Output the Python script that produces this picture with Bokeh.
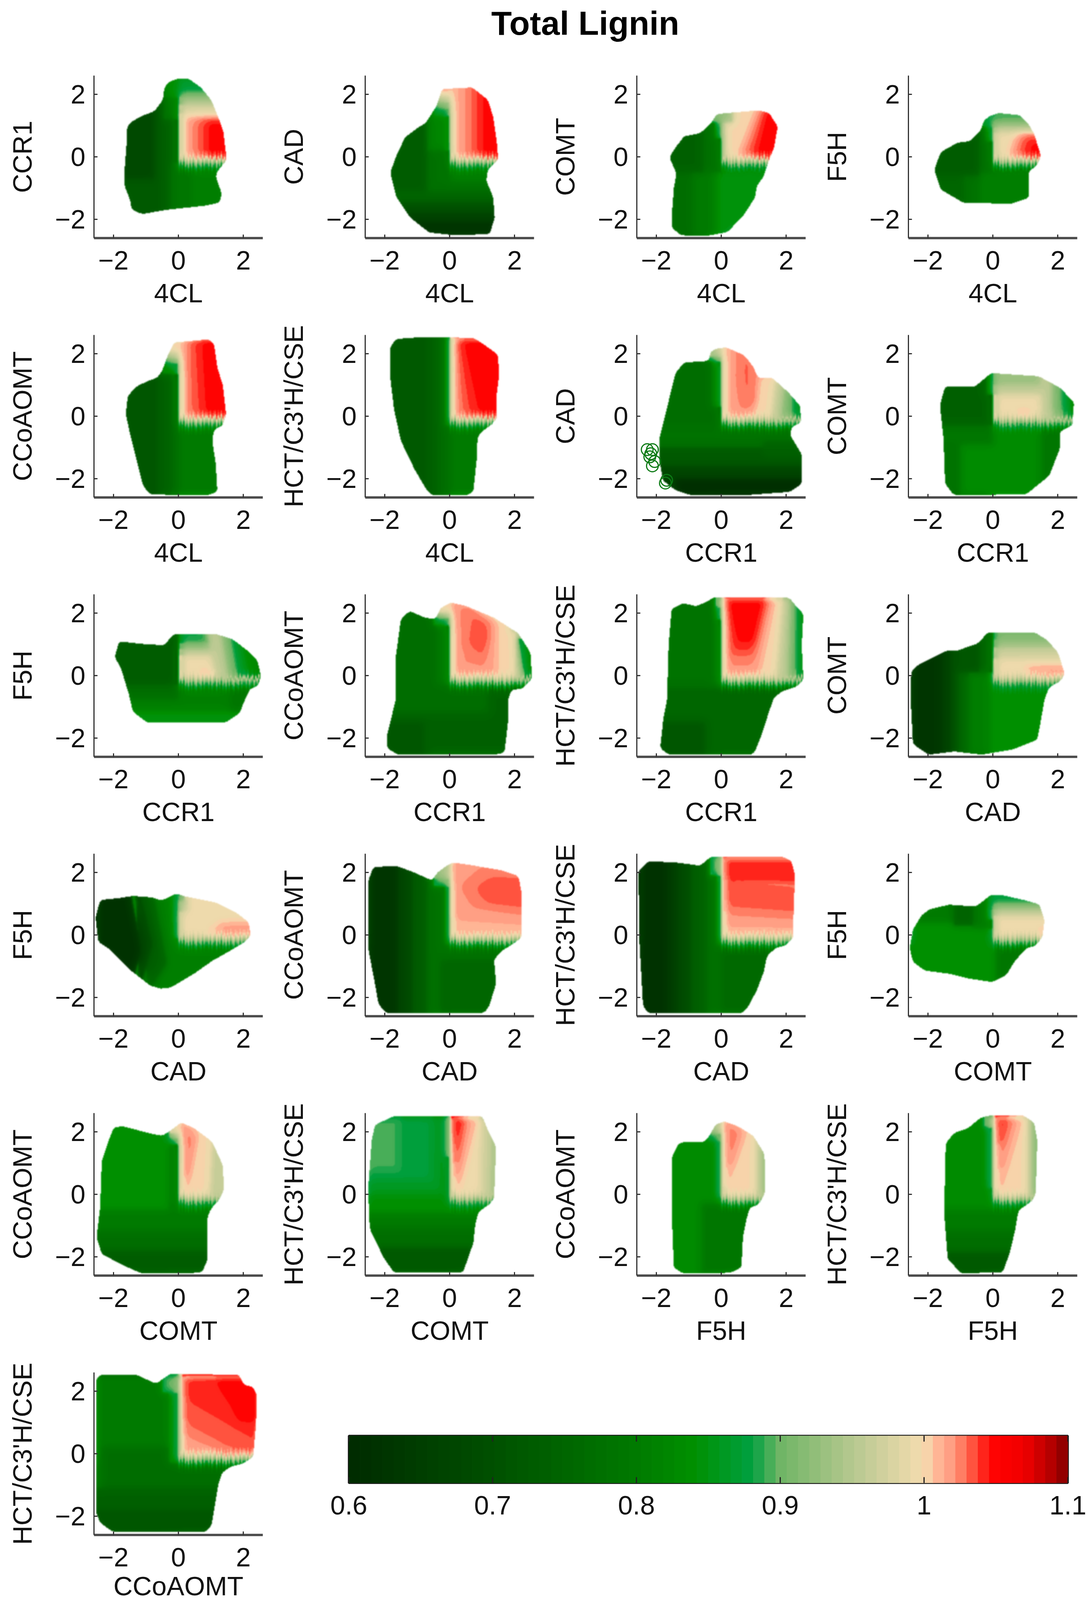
import numpy as np
from bokeh.embed import file_html
from bokeh.resources import INLINE
from bokeh.plotting import figure
from bokeh.layouts import column, row
from bokeh.models import Range1d, Label, FixedTicker, LinearAxis, Spacer

TITLE = "Total Lignin"
X_LABELS = ["4CL","4CL","4CL","4CL","4CL","4CL","CCR1","CCR1","CCR1","CCR1","CCR1","CAD","CAD","CAD","CAD","COMT","COMT","COMT","F5H","F5H","CCoAOMT"]
Y_LABELS = ["CCR1","CAD","COMT","F5H","CCoAOMT","HCT/C3'H/CSE","CAD","COMT","F5H","CCoAOMT","HCT/C3'H/CSE","COMT","F5H","CCoAOMT","HCT/C3'H/CSE","F5H","CCoAOMT","HCT/C3'H/CSE","CCoAOMT","HCT/C3'H/CSE","HCT/C3'H/CSE"]
TICKS = [-2, 0, 2]
CBAR_TICKS = [0.6, 0.7, 0.8, 0.9, 1.0, 1.1]
CBAR_LABELS = ["0.6", "0.7", "0.8", "0.9", "1", "1.1"]
CMAP_V = [0.6, 0.7, 0.8, 0.84, 0.88, 0.9, 0.95, 1.0, 1.01, 1.02, 1.03, 1.04, 1.05, 1.07, 1.09, 1.1]
CMAP_C = ["#002b00","#005000","#007a00","#009000","#00a040","#6fb565","#b5c88f","#f5dcb0","#ffb595","#ff9a80","#ff6a50","#ff2a20","#ff0000","#f00000","#b00000","#800000"]
# green-to-cream edge under the upper right quadrant, and its column-wise teeth
EDGE = [(.87,0,3,-.4,-.22),(.92,0,3,-.24,-.12),(.98,0,3,-.14,-.04)]
TEETH = [.05,-.03,.08,-.06,.02,.07,-.08,.04,-.02,.09,-.05,.03,-.07,.06,-.04,.08,-.02,-.07,.05,.01,-.06,.07,-.03,.04]

OUT01_X = [0,.32,.69,1.01,1.22,1.38,1.49,1.22,1.15,1.33,1.28,.85,-.32,-1.12,-1.44,-1.49,-1.65,-1.65,-1.6,-1.6,-1.49,-1.17,-.74,-.48,-.43,-.27]
OUT01_Y = [2.5,2.5,2.22,1.82,1.29,.83,-.1,-.43,-.63,-1.16,-1.46,-1.56,-1.69,-1.83,-1.69,-1.36,-.96,-.3,.36,.89,1.09,1.29,1.46,1.82,2.22,2.42]
BAND01 = [(.76,-3,3,-3,3),(.72,-3,-.55,-3,3),(.68,-3,-.75,-.7,3),(.74,-.55,-.25,-3,3),(.79,-.25,3,-3,-.2),(.81,.4,3,-3,-.3),(.8,-.45,0,1.2,3),(.84,-.45,0,1.9,3),
 (1.0,0,3,-.12,3),(.87,0,3,2.1,3),(.9,0,3,1.92,2.1),(.94,0,3,1.68,1.92),(.98,0,3,1.4,1.68),
 (1.01,.15,3,-.05,1.25),(1.02,.3,3,-.05,1.25),(1.03,.5,3,-.05,1.25),(1.04,.72,3,-.05,1.25),(1.05,.92,3,-.05,1.15)] + EDGE

OUT02_X = [-.23,.7,1.18,1.34,1.45,1.5,1.18,1.13,1.34,1.39,1.23,.06,-.63,-1.21,-1.64,-1.83,-1.64,-1.37,-.98,-.73,-.41]
OUT02_Y = [2.17,2.22,1.82,1.29,.5,-.1,-.4,-.76,-1.29,-1.95,-2.48,-2.5,-2.42,-1.95,-1.29,-.5,.03,.63,.93,1.09,1.62]
BAND02 = [(.78,-3,3,-3,3),(.73,-3,-.7,-3,3),(.75,-3,3,-3,-1.1),(.7,-3,3,-3,-1.45),(.66,-3,3,-3,-1.8),(.62,-3,3,-3,-2.1),(.82,-.7,0,.2,3),(.81,0,3,-.8,-.3),
 (.87,-.5,0,1.3,3),(.91,-.5,0,1.55,3),(.96,-.5,0,1.75,3),(1.0,-.5,0,1.95,3),(1.02,-.5,0,2.1,3),
 (1.0,0,3,-.12,3),(1.012,.12,3,-.05,3),(1.02,.3,3,-.05,3),(1.03,.55,3,-.05,3),(1.04,.8,3,-.05,3),(1.05,1.0,3,-.05,3)] + EDGE

OUT03_X = [-.13,1.15,1.47,1.74,1.63,1.47,1.36,1.31,1.1,1.04,.67,.19,-.45,-1.24,-1.51,-1.51,-1.46,-1.38,-1.6,-1.4,-1.14,-.66,-.34]
OUT03_Y = [1.37,1.49,1.41,.97,.31,-.12,-.46,-.62,-.93,-1.31,-1.89,-2.41,-2.53,-2.51,-2.28,-1.7,-1.0,-.54,0,.31,.66,.75,1.04]
BAND03 = [(.82,-3,3,-3,3),(.74,-3,-.55,-.5,3),(.78,-.55,0,-.5,3),(.77,-3,-.9,-3,-.5),(.8,-.9,-.3,-3,-.5),(.85,-.1,3,-3,-.5),(.87,-.2,0,.6,3),(.92,-.4,0,1.1,3),
 (.97,0,3,-.12,3),(1.0,.12,3,-.05,3),(.93,0,.35,1.1,3),(1.01,.42,-.1,1.08,1.6,3,1.6,3,-.1),(1.02,.52,-.1,1.16,1.6,3,1.6,3,-.1),(1.03,.65,-.1,1.25,1.6,3,1.6,3,-.1),(1.04,.85,-.1,1.35,1.6,3,1.6,3,-.1),(1.05,1.05,-.1,1.42,1.6,3,1.6,3,-.1)] + EDGE

OUT04_X = [.2,.84,1.11,1.27,1.48,1.37,1.11,1.11,1.11,.57,-.91,-1.61,-1.8,-1.61,-1.07,-.7,-.38,-.28,-.06]
OUT04_Y = [1.4,1.33,1.04,.73,.04,-.27,-.46,-.93,-1.31,-1.5,-1.47,-1.04,-.42,.15,.46,.5,.83,1.16,1.33]
BAND04 = [(.78,-3,3,-3,3),(.73,-3,-.4,-.6,3),(.75,-3,-.9,-3,-.6),(.81,-.4,3,-3,-.5),(.84,-.25,0,.5,3),(.88,-.35,0,.95,3),
 (.995,0,3,-.12,3),(.97,0,3,.78,3),(.93,0,3,.95,3),(.89,0,3,1.12,3),
 (1.01,.4,-.1,.68,.78,3,.78,3,-.1),(1.02,.52,-.1,.8,.78,3,.78,3,-.1),(1.03,.66,-.1,.92,.78,3,.78,3,-.1),(1.04,.82,-.1,1.05,.7,3,.7,3,-.1),(1.05,1.02,-.1,1.2,.45,3,.45,3,-.1)] + EDGE

OUT05_X = [-.13,.94,1.1,1.2,1.37,1.47,1.36,1.1,1.04,1.15,1.2,.94,-.87,-1.09,-1.35,-1.49,-1.62,-1.56,-1.3,-.87,-.66,-.5,-.34,-.18]
OUT05_Y = [2.36,2.46,2.3,1.56,.98,.06,-.29,-.44,-.75,-1.52,-2.41,-2.52,-2.51,-2.22,-1.14,-.56,.06,.64,.95,1.16,1.22,1.45,1.91,2.26]
BAND05 = [(.77,-3,3,-3,3),(.71,-3,-.65,-3,3),(.74,-.65,-.25,-3,3),(.8,0,3,-3,-.3),(.85,-.5,0,1.35,3),(.91,-.5,0,1.7,3),(.96,-.5,0,1.85,3),(1.0,-.5,0,2.05,3),
 (1.0,0,3,-.12,3),(1.012,.08,3,-.05,3),(1.02,.2,3,-.05,3),(1.03,.3,-.05,.25,2.6,3,2.6,3,-.05),(1.04,.58,-.05,.45,2.6,3,2.6,3,-.05),(1.05,.85,-.05,.7,2.6,3,2.6,3,-.05)] + EDGE

OUT06_X = [-1.66,-1.02,.73,.95,1.48,1.53,1.43,1.46,1.27,1,.86,.84,.73,.57,-.54,-.7,-1.07,-1.5,-1.71,-1.82,-1.82]
OUT06_Y = [2.47,2.52,2.51,2.37,1.98,1.37,.52,-.06,-.29,-.48,-.68,-1.33,-2.41,-2.52,-2.52,-2.37,-1.72,-.79,.21,1.16,2.22]
BAND06 = [(.77,-3,3,-3,3),(.72,-3,-.7,-3,3),(.74,-.7,-.35,-3,3),(.8,0,3,-3,-.3),(.84,-.15,0,-.3,3),
 (1.0,0,3,-.12,3),(1.012,.07,-.1,.1,3,3,3,3,-.1),(1.025,.2,-.1,.12,3,3,3,3,-.1),(1.035,.45,-.1,.15,3,3,3,3,-.1),(1.043,.7,-.1,.2,3,3,3,3,-.1),(1.05,1.0,-.1,.3,3,3,3,3,-.1)] + EDGE

OUT07_X = [-.16,.16,.71,.98,1.14,1.58,2.07,2.42,2.47,2.17,2.12,2.48,2.48,2.12,.71,-.92,-1.41,-1.79,-1.9,-1.9,-1.63,-1.41,-1.14,-.38,-.33]
OUT07_Y = [2.16,2.2,1.95,1.59,1.22,1.22,.76,.34,-.18,-.36,-.6,-1.22,-2.16,-2.42,-2.53,-2.53,-2.37,-2.06,-1.43,-.7,.44,1.38,1.72,1.77,2.06]
BAND07 = [(.77,-3,3,-3,3),(.78,-3,3,-1,-.3),(.72,-3,3,-1.6,-1),(.74,1.3,3,-1.3,-.8),(.67,-3,3,-2,-1.6),(.61,-3,3,-3,-2),(.66,-3,-1.4,-3,-2),(.83,-.3,0,.3,3),(.9,-.4,0,1.75,3),(.96,-.4,0,1.9,3),
 (1.0,0,3,-.12,3),(1.012,.08,3,-.05,3),(1.02,.3,-.05,.35,3,3,3,3,-.05),(1.03,.65,.3,.5,1.2,.5,2.6,1.05,1.7,1.08,.4),
 (1.0,1.0,-.05,1.2,1.3,3,1.3,3,-.05),(.96,1.55,-.05,1.7,1.3,3,1.3,3,-.05),(.91,1.85,-.05,2.0,1.3,3,1.3,3,-.05),(.86,2.2,-.05,2.25,1.3,3,1.3,3,-.05)] + EDGE
STRAY07_X = [-2.28,-2.12,-2.17,-2.2,-2.12,-2.05,-1.72,-1.68]
STRAY07_Y = [-1.07,-1.07,-1.2,-1.3,-1.59,-1.45,-2.14,-2.05]

OUT08_X = [-.05,1.41,2.07,2.5,2.45,2.07,2.07,1.74,1.03,-1.2,-1.47,-1.52,-1.63,-1.47,-.54]
OUT08_Y = [1.38,1.28,.91,.44,-.29,-.49,-1.02,-1.9,-2.5,-2.53,-2.16,-.7,.34,.96,.96]
BAND08 = [(.83,-3,3,-3,3),(.79,-3,0,-.9,-.3),(.74,-3,0,-.3,3),(.78,-3,-1,-3,-.9),(.79,1.5,3,-3,-.4),(.85,-.2,0,.7,3),
 (.995,0,3,-.12,3),(.96,0,3,.7,3),(.93,0,3,1.0,3),(.96,1.5,-.1,1.45,2,3,2,3,-.1),(.91,1.85,-.1,1.8,2,3,2,3,-.1),(.87,2.15,-.1,2.05,2,3,2,3,-.1),(.84,2.4,-.1,2.3,2,3,2,3,-.1),(1.012,.75,1.15,-.05,.2)] + EDGE

OUT09_X = [-.13,1.15,1.68,2.11,2.43,2.55,2.43,2.21,2,1.89,1.47,-.98,-1.4,-1.53,-1.78,-1.96,-1.83,-1.19,-.45]
OUT09_Y = [1.33,1.33,1.16,.81,.48,-.04,-.35,-.42,-.89,-1.2,-1.49,-1.49,-1.16,-.58,.27,.58,1.1,1.02,.97]
BAND09 = [(.81,-3,3,-3,3),(.77,-3,0,-.75,-.3),(.79,1.6,3,-3,-.3),(.85,-3,3,-3,-1.15),(.73,-3,.0,-.3,3),
 (.995,0,3,-.12,3),(.96,0,3,.66,3),(.92,0,3,.86,3),(.88,0,3,1.04,3),(.96,1.15,-.1,.85,1.5,3,1.5,3,-.1),(.91,1.55,-.1,1.3,1.5,3,1.5,3,-.1),(.86,1.85,-.1,1.6,1.5,3,1.5,3,-.1),(.83,2.2,-.1,1.9,1.5,3,1.5,3,-.1),(1.012,.65,1.1,-.05,.17)] + EDGE

OUT10_X = [.04,.52,1.37,2.12,2.49,2.54,2.22,1.9,1.8,1.8,1.69,1.37,-1.6,-1.93,-1.93,-1.66,-1.66,-1.5,-1.23,-.76,-.44,-.28]
OUT10_Y = [2.34,2.22,1.85,1.35,.73,-.12,-.42,-.46,-.77,-1.47,-2.47,-2.53,-2.53,-2.32,-1.93,-.77,.58,1.81,2.07,1.85,1.81,2.16]
BAND10 = [(.77,-3,3,-3,3),(.8,-.4,0,-.3,3),(.74,-3,3,-3,-1.2),(.71,-3,-.8,-3,-1.5),(.74,1.2,3,-3,-.35),(.87,-.5,0,1.6,3),(.94,-.5,0,1.85,3),(1.0,-.5,0,2.0,3),
 (.9,0,3,-.12,3),(.95,1.85,-.1,1.5,3,3,3,3,-.1),(.85,2.3,-.1,2.1,1.2,3,1.2,3,-.1),(1.0,0,2.05,-.12,1.4),(.95,0,3,-.12,-.04),(1.0,0,1.9,-.12,3),
 (1.015,.06,-.05,1.5,-.05,1.5,1.65,.1,2.6),(1.022,.25,.2,1.2,.1,1.3,1.55,.1,2.6),(1.03,.5,1.05,1.02,.45,1.22,1.1,1.3,1.7,.5,2.3),(1.035,.62,1.0,1.0,.7,1.2,1.3,.9,1.8)] + EDGE

OUT11_X = [-.23,2.1,2.32,2.53,2.48,2.53,2.32,1.89,1.63,1.47,1.26,1.04,.94,-1.62,-1.88,-1.78,-1.67,-1.62,-1.53,-1.19,-.77,-.45]
OUT11_Y = [2.51,2.49,2.2,1.97,.97,-.15,-.35,-.5,-.69,-1.16,-1.85,-2.43,-2.53,-2.53,-2.32,-1.35,-.77,.97,2.12,2.32,2.22,2.36]
BAND11 = [(.78,-3,3,-3,3),(.75,-3,3,-3,-.4),(.71,-3,-.5,-3,-1.5),(.8,-.3,0,-.3,3),(.86,-.2,0,1.8,3),(.93,-.2,0,2.2,3),
 (1.0,0,3,-.12,3),(.96,1.7,-.1,1.95,3,3,3,3,-.1),(.91,2.05,-.1,2.15,3,3,3,3,-.1),(.86,2.3,-.1,2.3,3,3,3,3,-.1),
 (1.012,.08,-.05,.08,3,1.8,3,1.2,-.05),(1.022,.12,.1,.05,3,1.68,3,1.06,.1),(1.03,.2,.55,.05,3,1.6,3,1.0,.55),(1.04,.35,.75,.05,3,1.5,3,.98,.75),(1.05,.5,1.05,.05,3,1.45,3,1.02,1.05)] + EDGE

OUT12_X = [-.17,1.32,1.69,2.01,2.22,2.06,1.74,1.59,1.48,1.37,.63,-.33,-1.18,-1.98,-2.46,-2.54,-2.51,-2.35,-1.93,-1.45,-1.07,-.44]
OUT12_Y = [1.37,1.37,1.12,.73,.04,-.19,-.37,-.77,-1.43,-2.05,-2.36,-2.53,-2.43,-2.53,-2.2,-.58,.12,.31,.54,.79,.81,1.04]
BAND12 = [(.84,-3,3,-3,3),(.81,-.75,-.1,-3,3),(.76,-1.05,-.75,-3,3),(.71,-1.3,-1.05,-3,3),(.66,-1.6,-1.3,-3,3),(.63,-3,-1.6,-3,3),(.71,-1.1,-.4,.1,3),(.76,-.4,0,.1,3),
 (.995,0,3,-.12,3),(.97,0,3,.55,3),(.93,0,3,.9,3),(.91,0,3,1.15,3),(1.012,1.0,3,-.05,.35),(1.018,1.5,3,-.05,.3)] + EDGE

OUT13_X = [-.07,.19,1.15,1.79,2.16,2.23,2,1.57,1.04,.51,-.23,-.55,-.87,-1.51,-2.15,-2.47,-2.55,-2.41,-1.83,-1.4,-.77,-.55,-.34]
OUT13_Y = [1.33,1.24,1.04,.71,.41,-.02,-.25,-.52,-.83,-1.22,-1.68,-1.72,-1.62,-1.1,-.44,-.21,.56,1.12,1.18,1.25,1.2,1.1,1.18]
BAND13 = [(.81,-3,3,-3,3),(.74,-1.3,1.5,-.8,1.5,-.35,-.9,-.9,-1.8),(.68,-1.3,1.5,-1.2,1.5,-.8,-.3,-1.2,-1.8),(.62,-3,1.5,-1.5,1.5,-1.15,-.5,-1.5,-1.8,-3,-1.8),(.86,-.15,-.1,0,-.1,0,1.5,-.25,1.5),
 (.995,0,3,-.12,3),(.9,0,.2,1.0,3),(.96,0,.28,.75,1.1),(1.012,.75,-.05,1.3,.42,3,.5,3,-.05),(1.018,1.3,3,-.05,.35)] + EDGE

OUT14_X = [.1,.63,1.59,2.12,2.22,2.22,2.01,1.59,1.37,1.43,1.21,1.05,-1.93,-2.19,-2.3,-2.51,-2.51,-2.35,-1.6,-1.07,-.54,-.38,-.12]
OUT14_Y = [2.32,2.24,2.07,1.89,1.33,-.06,-.25,-.52,-.79,-1.56,-2.3,-2.51,-2.51,-2.22,-1.56,-.41,1.72,2.18,2.2,1.99,1.74,1.99,2.2]
BAND14 = [(.78,-3,3,-3,3),(.75,-.3,3,-3,-.8),(.73,-1.15,-.7,-3,3),(.68,-1.6,-1.15,-3,3),(.63,-3,-1.6,-3,3),(.85,-.15,0,-.3,3),(.9,-.5,0,1.55,3),(.94,-.5,0,1.8,3),
 (1.0,0,3,-.12,3),(1.012,.05,3,-.05,.65),(1.02,.05,.55,.05,3,3,3,3,.35),(1.028,.4,1.55,.75,.95,3,.6,3,2.0,1.0,2.1),(1.032,.8,1.5,1.2,.95,3,.8,3,1.8,1.3,1.85)] + EDGE

OUT15_X = [-.34,1.89,2.16,2.27,2.21,2.23,2,1.68,1.41,1.31,1.1,.83,.62,-2.26,-2.41,-2.52,-2.55,-2.26,-1.4,-.66,-.5]
OUT15_Y = [2.49,2.51,2.37,1.91,.17,-.06,-.33,-.41,-.68,-1.18,-1.76,-2.3,-2.51,-2.49,-2.26,-.21,2.03,2.36,2.32,2.22,2.34]
BAND15 = [(.78,-3,3,-3,3),(.76,0,3,-3,-.5),(.74,-.95,-.45,-3,3),(.69,-1.35,-.95,-3,3),(.65,-1.65,-1.35,-3,3),(.62,-3,-1.65,-3,3),(.84,-.15,0,-.3,3),(.9,-.35,0,1.9,3),
 (1.0,0,3,-.12,3),(1.012,.06,3,-.05,.45),(1.02,.06,.3,.06,.95,3,.85,3,.3),(1.03,.06,.75,.06,1.25,3,1.15,3,.55),(1.036,.06,1.1,.06,1.75,3,1.45,3,.85),(1.042,.06,1.75,.06,3,3,3,3,1.55)] + EDGE

OUT16_X = [-.06,.31,.95,1.43,1.59,1.53,1.32,1.05,.68,.41,-.01,-.76,-1.29,-2.09,-2.46,-2.56,-2.46,-2.19,-1.93,-1.34,-.54,-.33]
OUT16_Y = [1.29,1.27,1.12,.98,.48,-.06,-.35,-.41,-.83,-1.29,-1.51,-1.39,-1.25,-1.14,-.87,-.41,.17,.64,.83,.97,.91,1.06]
BAND16 = [(.84,-3,3,-3,3),(.8,-3,-1.2,.4,3),(.74,-1.2,-.6,.3,3),(.8,-.6,0,.2,3),(.79,.1,3,-3,-.35),(.87,-.2,0,.5,3),
 (.995,0,3,-.12,3),(.96,0,3,.62,3),(.92,0,3,.82,3),(.875,0,3,1.02,3),(1.015,1.42,3,-.05,.2)] + EDGE

OUT17_X = [.09,.51,1.04,1.36,1.41,1.26,.99,.88,.88,.72,-1.14,-1.72,-2.36,-2.52,-2.41,-2.36,-2.15,-1.99,-1.72,-.87,-.5,-.23]
OUT17_Y = [2.3,2.1,1.68,.95,.17,-.17,-.48,-.79,-2.14,-2.51,-2.53,-2.26,-1.91,-1.37,-.41,1.06,1.72,2.14,2.18,1.95,1.87,2.05]
BAND17 = [(.84,-3,3,-3,3),(.8,-3,3,-3,-.5),(.77,-3,3,-3,-1.2),(.73,-3,3,-3,-1.8),(.8,-.3,0,-.5,3),(.88,-.3,0,1.6,3),(.94,-.3,0,1.8,3),(1.0,-.3,0,1.95,3),
 (1.0,0,3,-.12,3),(.96,.98,-.05,1.12,3,3,3,3,-.05),(1.012,.08,.05,.3,.05,.62,2.0,.15,2.4),(1.025,.14,.55,.32,.55,.55,1.8,.12,2.32)] + EDGE

OUT18_X = [-1.71,1,1.16,1.43,1.37,1.21,.89,.79,.73,.41,-1.71,-2.03,-2.46,-2.51,-2.4,-2.3]
OUT18_Y = [2.51,2.51,2.1,1.53,-.14,-.33,-.56,-.98,-1.56,-2.51,-2.51,-2.03,-1.1,.17,1.72,2.22]
BAND18 = [(.84,-3,3,-3,3),(.86,-3,-.2,.0,3),(.875,-3,-.5,.4,3),(.89,-3,-1.5,.7,3),(.88,-.2,0,1.2,3),(.8,-3,3,-3,-.6),(.77,-3,3,-3,-1.1),(.72,-3,3,-3,-1.7),
 (.995,0,3,-.12,3),(.97,.95,-.05,1.0,3,3,3,3,-.05),(.94,1.25,-.05,1.3,3,3,3,3,-.05),(1.012,.06,.1,.3,.1,.95,2.6,.03,2.6),(1.028,.1,.55,.24,.55,.62,2.6,.03,2.6),(1.042,.1,1.0,.2,1.0,.45,2.6,.03,2.6),(1.05,.1,1.6,.2,1.6,.32,2.6,.05,2.6)] + EDGE

OUT19_X = [.09,.51,.99,1.31,1.36,1.34,1.15,.88,.78,.67,.62,.3,-1.19,-1.46,-1.51,-1.51,-1.3,-1.09,-.55,-.39,-.18]
OUT19_Y = [2.34,2.18,1.87,1.33,.95,.02,-.33,-.42,-.79,-1.37,-2.34,-2.51,-2.53,-2.34,-.98,1.22,1.64,1.68,1.66,1.83,2.22]
BAND19 = [(.83,-3,3,-3,3),(.79,-.6,3,-3,-.3),(.86,-.2,0,-.1,3),(.88,-.4,0,1.7,3),(.95,-.4,0,1.95,3),
 (1.0,0,3,-.12,3),(.96,1.08,-.05,1.1,3,3,3,3,-.05),(.93,1.25,-.05,1.28,3,3,3,3,-.05),(1.012,.05,.25,.22,.25,.85,2.12,.02,2.45),(1.025,.1,.8,.32,1.0,.62,2.0,.1,2.42)] + EDGE

OUT20_X = [-.06,.95,1.27,1.37,1.32,1.21,.79,.68,.52,.31,-.97,-1.39,-1.5,-1.45,-1.18,-.76,-.38]
OUT20_Y = [2.53,2.52,2.3,1.72,.02,-.21,-.52,-1.18,-1.87,-2.49,-2.53,-2.07,-.6,1.64,1.97,2.12,2.45]
BAND20 = [(.83,-3,3,-3,3),(.8,-3,3,-3,-.5),(.77,-3,3,-3,-1.2),(.72,-3,3,-3,-1.85),(.86,-.25,0,.2,3),(.92,-.3,0,2.15,3),
 (1.0,0,3,-.12,3),(.96,1.08,-.05,1.1,3,3,3,3,-.05),(.92,1.2,-.05,1.22,3,3,3,3,-.05),(1.012,.05,.15,.3,.15,1.0,2.6,.05,2.6),(1.025,.1,.8,.26,.8,.75,2.6,.05,2.6),(1.042,.12,1.6,.26,1.6,.52,2.6,.05,2.6)] + EDGE

OUT21_X = [-2.4,-1.3,-.69,-.26,1.87,2.02,2.3,2.42,2.39,2.3,1.99,1.63,1.35,1.23,1.14,1.02,.84,-2.03,-2.4,-2.53,-2.53,-2.53]
OUT21_Y = [2.53,2.53,2.24,2.55,2.53,2.2,2.14,1.87,.95,-.1,-.31,-.41,-.6,-.98,-1.56,-2.3,-2.49,-2.49,-2.22,-1.91,.95,2.37]
BAND21 = [(.8,-3,3,-3,3),(.77,-2.35,3,-3,.2),(.74,-3,3,-3,-1.1),(.71,-3,3,-3,-1.8),(.85,-.3,0,-.3,3),(.9,-.5,0,1.95,3),
 (1.04,0,3,-.12,3),(1.018,0,-.1,1.55,-.1,.0,.85),(1.028,0,.7,1.75,-.1,2.4,-.1,0,1.5),(1.036,0,1.2,2.35,-.1,3,.1,0,1.9),(1.043,.15,2.6,3,.6,3,2.6),(1.05,1.05,2.6,1.85,1.0,3,1.0,3,2.6),(.98,0,.1,-.12,3),(1.0,.0,1.1,-.12,.03)] + EDGE

OUTLINES_X = [OUT01_X,OUT02_X,OUT03_X,OUT04_X,OUT05_X,OUT06_X,OUT07_X,OUT08_X,OUT09_X,OUT10_X,OUT11_X,OUT12_X,OUT13_X,OUT14_X,OUT15_X,OUT16_X,OUT17_X,OUT18_X,OUT19_X,OUT20_X,OUT21_X]
OUTLINES_Y = [OUT01_Y,OUT02_Y,OUT03_Y,OUT04_Y,OUT05_Y,OUT06_Y,OUT07_Y,OUT08_Y,OUT09_Y,OUT10_Y,OUT11_Y,OUT12_Y,OUT13_Y,OUT14_Y,OUT15_Y,OUT16_Y,OUT17_Y,OUT18_Y,OUT19_Y,OUT20_Y,OUT21_Y]
BANDS = [BAND01,BAND02,BAND03,BAND04,BAND05,BAND06,BAND07,BAND08,BAND09,BAND10,BAND11,BAND12,BAND13,BAND14,BAND15,BAND16,BAND17,BAND18,BAND19,BAND20,BAND21]

FONT = "Liberation Sans"
N_LEVELS = 64
RW, RH = 216, 208
LO, HI = -2.6, 2.6

def hex2rgb(h):
    return tuple(int(h[i:i+2], 16) for i in (1, 3, 5))

def level_color(k):
    c = 0.6 + (k + .5) * 0.5 / N_LEVELS
    for i in range(len(CMAP_V) - 1):
        if CMAP_V[i] <= c <= CMAP_V[i + 1]:
            t = (c - CMAP_V[i]) / (CMAP_V[i + 1] - CMAP_V[i])
            a, b = hex2rgb(CMAP_C[i]), hex2rgb(CMAP_C[i + 1])
            return tuple(round(a[j] + (b[j] - a[j]) * t) for j in range(3))
    return hex2rgb(CMAP_C[-1])

LUT = np.array([level_color(k) for k in range(N_LEVELS)], dtype=float)

def gauss(a, s):
    r = int(3 * s + 1)
    w = np.exp(-0.5 * (np.arange(-r, r + 1) / s) ** 2)
    w /= w.sum()
    out = a
    for axis in (0, 1):
        tot = np.zeros_like(out, dtype=float)
        for k, wk in zip(range(-r, r + 1), w):
            tot += wk * np.roll(out, k, axis=axis)
        out = tot
    return out

GX, GY = np.meshgrid(LO + (np.arange(RW) + .5) * (HI - LO) / RW, LO + (np.arange(RH) + .5) * (HI - LO) / RH)

def band_polygon(b):
    if len(b) == 5:
        return [(b[1], b[3]), (b[2], b[3]), (b[2], b[4]), (b[1], b[4])]
    return [(b[i], b[i + 1]) for i in range(1, len(b), 2)]

def convex_mask(poly):
    n = len(poly)
    area = sum(poly[i][0] * poly[(i + 1) % n][1] - poly[(i + 1) % n][0] * poly[i][1] for i in range(n))
    if area < 0:
        poly = poly[::-1]
    m = np.ones_like(GX, dtype=bool)
    for i in range(n):
        ax, ay = poly[i]
        bx, by = poly[(i + 1) % n]
        m &= (bx - ax) * (GY - ay) - (by - ay) * (GX - ax) >= 0
    return m

def outline_mask(xs, ys):
    m = np.zeros_like(GX, dtype=bool)
    n = len(xs)
    for i in range(n):
        x0, y0, x1, y1 = xs[i], ys[i], xs[(i + 1) % n], ys[(i + 1) % n]
        if y0 == y1:
            continue
        hit = ((y0 <= GY) != (y1 <= GY)) & (GX < x0 + (GY - y0) * (x1 - x0) / (y1 - y0))
        m ^= hit
    return m

def panel_image(i):
    field = np.full_like(GX, 0.8)
    for b in BANDS[i]:
        field[convex_mask(band_polygon(b))] = b[0]
    sharp = gauss(field, 1.2)
    soft = gauss(field, 5.0)
    w = np.clip(np.abs(sharp - soft) / 0.08, 0, 1)
    val = w * sharp + (1 - w) * soft
    for j in range(RW):
        x = LO + (j + .5) * (HI - LO) / RW
        if x <= 0:
            continue
        sh = int(round(TEETH[(j // 2) % len(TEETH)] * RH / (HI - LO)))
        rows = np.where((GY[:, j] > -.6) & (GY[:, j] < .2))[0]
        val[rows, j] = val[rows - sh, j]
    kidx = np.clip(((val - 0.6) / 0.5 * N_LEVELS).astype(int), 0, N_LEVELS - 1)
    rgb = LUT[kidx]
    mask = outline_mask(OUTLINES_X[i], OUTLINES_Y[i]).astype(float)
    mask = (gauss(mask, 2.5) > .5).astype(float)
    mask = gauss(mask, .7)
    col = np.dstack([gauss(rgb[:, :, c], .7) for c in range(3)])
    out = np.zeros((RH, RW, 4), dtype=np.uint8)
    out[:, :, :3] = np.clip(col, 0, 255).astype(np.uint8)
    out[:, :, 3] = np.clip(mask * 255, 0, 255).astype(np.uint8)
    return out.view(np.uint32).reshape(RH, RW)

def make_panel(i, w, h):
    p = figure(width=w, height=h, x_range=Range1d(LO, HI), y_range=Range1d(LO, HI),
               output_backend="svg", toolbar_location=None, min_border_left=240, min_border_right=w - 240 - 432,
               min_border_top=30, min_border_bottom=h - 30 - 416, frame_width=432, frame_height=416)
    p.outline_line_color = None
    p.grid.visible = False
    p.image_rgba(image=[panel_image(i)], x=LO, y=LO, dw=HI - LO, dh=HI - LO)
    if i == 6:
        p.scatter(STRAY07_X, STRAY07_Y, marker="circle", size=30, fill_color=None, line_color="#0b7a14", line_width=3)
    for ax in (p.xaxis[0], p.yaxis[0]):
        ax.ticker = FixedTicker(ticks=TICKS)
        ax.axis_label_text_font = FONT
        ax.axis_label_text_font_style = "normal"
        ax.axis_label_text_font_size = "68px"
        ax.axis_label_text_color = "#111111"
        ax.major_label_text_font = FONT
        ax.major_label_text_font_size = "68px"
        ax.major_label_text_color = "#111111"
        ax.major_tick_in = 9
        ax.major_tick_out = 0
        ax.major_tick_line_width = 3
        ax.major_tick_line_color = "#333333"
        ax.minor_tick_line_color = None
    p.yaxis.axis_label = Y_LABELS[i]
    p.xaxis.axis_label = X_LABELS[i]
    p.xaxis.axis_line_width = 6
    p.xaxis.axis_line_color = "#4a4a4a"
    p.yaxis.axis_line_width = 3
    p.yaxis.axis_line_color = "#333333"
    p.xaxis.major_label_standoff = 33
    p.xaxis.axis_label_standoff = 19 if i < 20 else 9
    p.yaxis.major_label_standoff = 22
    p.yaxis.axis_label_standoff = 43
    return p

def make_colorbar(w, h):
    p = figure(width=w, height=h, x_range=Range1d(0.6, 1.1), y_range=Range1d(0, 1), output_backend="svg",
               toolbar_location=None, min_border_left=198, min_border_right=w - 198 - 1840, min_border_top=30,
               min_border_bottom=h - 30 - 121, frame_width=1840, frame_height=121, y_axis_location=None)
    p.grid.visible = False
    p.outline_line_color = "#222222"
    p.outline_line_width = 5
    d = 0.5 / N_LEVELS
    lefts = [0.6 + k * d for k in range(N_LEVELS)]
    rights = [v + d for v in lefts]
    cols = ["#%02x%02x%02x" % level_color(k) for k in range(N_LEVELS)]
    p.quad(left=lefts, right=rights, bottom=0, top=1, fill_color=cols, line_color=cols, line_width=1)
    top = LinearAxis()
    p.add_layout(top, "above")
    for ax in (p.below[0], top):
        ax.ticker = FixedTicker(ticks=CBAR_TICKS)
        ax.major_tick_in = 15
        ax.major_tick_out = 0
        ax.major_tick_line_width = 3
        ax.major_tick_line_color = "#222222"
        ax.minor_tick_line_color = None
        ax.axis_line_color = None
    top.major_label_text_font_size = "0px"
    top.major_label_text_color = None
    ax = p.below[0]
    ax.major_label_overrides = {t: s for t, s in zip(CBAR_TICKS, CBAR_LABELS)}
    ax.major_label_text_font = FONT
    ax.major_label_text_font_size = "68px"
    ax.major_label_text_color = "#111111"
    ax.major_label_standoff = 33
    return p

title = figure(width=2784, height=163, x_range=Range1d(0, 1), y_range=Range1d(0, 1), output_backend="svg",
               toolbar_location=None, min_border=0, x_axis_location=None, y_axis_location=None)
title.outline_line_color = None
title.grid.visible = False
title.add_layout(Label(x=1497, y=105, x_units="screen", y_units="screen", text=TITLE, text_align="center",
                       text_baseline="middle", text_font=FONT, text_font_style="bold", text_font_size="86px", text_color="#000000"))

COL_W = [694, 695, 695, 700]
rows = [title]
k = 0
for r in range(5):
    cells = []
    for c in range(4):
        cells.append(make_panel(k, COL_W[c], 664))
        k += 1
    rows.append(row(*cells))
rows.append(row(make_panel(k, 694, 613), column(Spacer(width=2090, height=162), make_colorbar(2090, 281))))
page = column(*rows)
open("out.html", "w").write(file_html(page, INLINE))
